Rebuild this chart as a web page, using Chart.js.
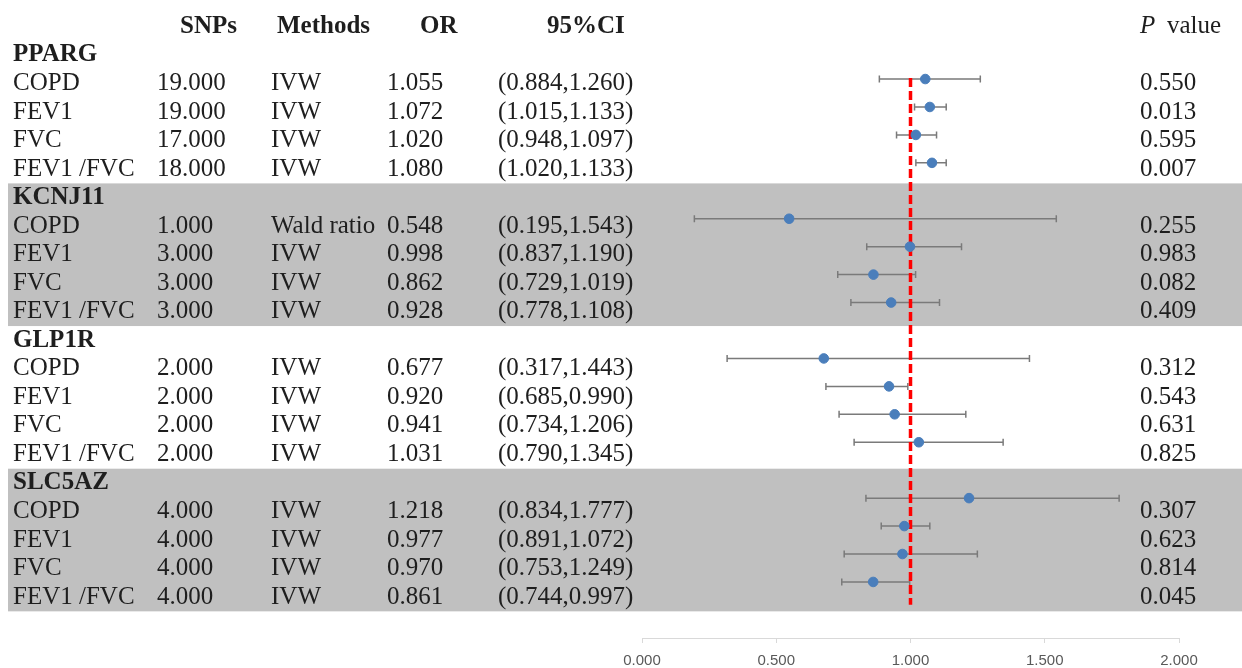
<!DOCTYPE html>
<html>
<head>
<meta charset="utf-8">
<script src="https://cdn.jsdelivr.net/npm/chart.js@4.4.1/dist/chart.umd.min.js"></script>
<style>
    body { margin: 0; background: #fff; }
    #wrap { width: 1242px; height: 668px; position: relative; }
</style>
</head>
<body>
<div id="wrap"><canvas id="forestChart"></canvas></div>
<script>
// ========================================
// Data
// ========================================

const groups = ['PPARG', 'KCNJ11', 'GLP1R', 'SLC5AZ'];
const outcomes = ['COPD', 'FEV1', 'FVC', 'FEV1 /FVC'];
const snps = [19, 19, 17, 18, 1, 3, 3, 3, 2, 2, 2, 2, 4, 4, 4, 4];
const methods = ['IVW', 'IVW', 'IVW', 'IVW', 'Wald ratio', 'IVW', 'IVW', 'IVW',
                 'IVW', 'IVW', 'IVW', 'IVW', 'IVW', 'IVW', 'IVW', 'IVW'];
const orValues = [1.055, 1.072, 1.020, 1.080, 0.548, 0.998, 0.862, 0.928,
                  0.677, 0.920, 0.941, 1.031, 1.218, 0.977, 0.970, 0.861];
const ciLower = [0.884, 1.015, 0.948, 1.020, 0.195, 0.837, 0.729, 0.778,
                 0.317, 0.685, 0.734, 0.790, 0.834, 0.891, 0.753, 0.744];
const ciUpper = [1.260, 1.133, 1.097, 1.133, 1.543, 1.190, 1.019, 1.108,
                 1.443, 0.990, 1.206, 1.345, 1.777, 1.072, 1.249, 0.997];
const pValues = ['0.550', '0.013', '0.595', '0.007', '0.255', '0.983', '0.082', '0.409',
                 '0.312', '0.543', '0.631', '0.825', '0.307', '0.623', '0.814', '0.045'];
const xTicks = [0, 0.5, 1, 1.5, 2];
// reference line at OR = 1 (row span)
const refLine = [{ x: 1, y: 0.96 }, { x: 1, y: 19.82 }];
// shaded groups
const shadedGroups = [1, 3];

// row index of each estimate (group header takes one row)
const rowOf = i => Math.floor(i / 4) * 5 + 1 + (i % 4);

const SERIF = '"Liberation Serif", "Times New Roman", serif';
const TEXT_COLOR = '#1e1e1e';

// ========================================
// Plugins
// ========================================

/**
 * Grey group bands (under everything)
 */
const bandPlugin = {
    id: 'bands',
    beforeDraw(chart) {
        const ctx = chart.ctx;
        const yt = chart.scales.yt;
        ctx.save();
        ctx.fillStyle = '#c0c0c0';
        shadedGroups.forEach(g => {
            const top = yt.getPixelForValue(g * 5 - 0.5);
            const bottom = yt.getPixelForValue(g * 5 + 4.5);
            ctx.fillRect(8, top, chart.width - 8, bottom - top);
        });
        ctx.restore();
    }
};

/**
 * Confidence interval whiskers
 */
const whiskerPlugin = {
    id: 'whiskers',
    beforeDatasetsDraw(chart) {
        const ctx = chart.ctx;
        const xs = chart.scales.x;
        const ys = chart.scales.y;
        ctx.save();
        ctx.strokeStyle = '#7a7a7a';
        ctx.lineWidth = 1.5;
        orValues.forEach((v, i) => {
            const y = ys.getPixelForValue(rowOf(i));
            const x1 = xs.getPixelForValue(ciLower[i]);
            const x2 = xs.getPixelForValue(ciUpper[i]);
            ctx.beginPath();
            ctx.moveTo(x1, y);
            ctx.lineTo(x2, y);
            ctx.moveTo(x1, y - 3.5);
            ctx.lineTo(x1, y + 3.5);
            ctx.moveTo(x2, y - 3.5);
            ctx.lineTo(x2, y + 3.5);
            ctx.stroke();
        });
        ctx.restore();
    }
};

/**
 * Table text
 */
const tablePlugin = {
    id: 'table',
    afterDraw(chart) {
        const ctx = chart.ctx;
        const yt = chart.scales.yt;
        ctx.save();
        ctx.fillStyle = TEXT_COLOR;
        ctx.textBaseline = 'middle';
        ctx.textAlign = 'left';

        // header
        const hy = yt.getPixelForValue(-1);
        ctx.font = 'bold 25px ' + SERIF;
        ctx.fillText('SNPs', 180, hy);
        ctx.fillText('Methods', 277, hy);
        ctx.fillText('OR', 420, hy);
        ctx.fillText('95%CI', 547, hy);
        ctx.font = 'italic 25px ' + SERIF;
        ctx.fillText('P', 1140, hy);
        ctx.font = '25px ' + SERIF;
        ctx.fillText('value', 1167, hy);

        // groups
        groups.forEach((g, gi) => {
            ctx.font = 'bold 25px ' + SERIF;
            ctx.fillText(g, 13, yt.getPixelForValue(gi * 5));
        });

        // rows
        ctx.font = '25px ' + SERIF;
        orValues.forEach((v, i) => {
            const y = yt.getPixelForValue(rowOf(i));
            ctx.fillText(outcomes[i % 4], 13, y);
            ctx.fillText(snps[i].toFixed(3), 157, y);
            ctx.fillText(methods[i], 271, y);
            ctx.fillText(v.toFixed(3), 387, y);
            ctx.fillText('(' + ciLower[i].toFixed(3) + ',' + ciUpper[i].toFixed(3) + ')', 498, y);
            ctx.fillText(pValues[i], 1140, y);
        });
        ctx.restore();
    }
};

// ========================================
// Chart
// ========================================

window.addEventListener('DOMContentLoaded', () => {
    const ctx = document.getElementById('forestChart').getContext('2d');

    new Chart(ctx, {
        type: 'scatter',
        data: {
            datasets: [
                {
                    label: 'OR',
                    data: orValues.map((v, i) => ({ x: v, y: rowOf(i) })),
                    backgroundColor: '#4a7ebb',
                    borderColor: '#4a7ebb',
                    pointRadius: 4.8,
                    yAxisID: 'y'
                },
                {
                    type: 'line',
                    label: 'ref',
                    data: refLine,
                    borderColor: '#ff0000',
                    borderWidth: 3.5,
                    borderDash: [9, 4],
                    pointRadius: 0,
                    fill: false,
                    yAxisID: 'y'
                }
            ]
        },
        options: {
            responsive: true,
            maintainAspectRatio: false,
            animation: false,
            layout: {
                autoPadding: false,
                padding: { left: 642, right: 63, top: 0, bottom: 0 }
            },
            plugins: {
                legend: { display: false },
                tooltip: { enabled: false },
                title: { display: false }
            },
            scales: {
                x: {
                    type: 'linear',
                    min: 0,
                    max: 2,
                    afterFit: scale => { scale.height = 30; },
                    afterBuildTicks: scale => {
                        scale.ticks = xTicks.map(v => ({ value: v }));
                    },
                    border: { display: true, color: '#d9d9d9', width: 1 },
                    grid: {
                        display: true,
                        drawOnChartArea: false,
                        drawTicks: true,
                        tickLength: 5,
                        color: '#d9d9d9'
                    },
                    ticks: {
                        padding: 9,
                        color: '#595959',
                        font: { family: '"Liberation Sans", Arial, sans-serif', size: 15 },
                        maxRotation: 0,
                        callback: value => Number(value).toFixed(3)
                    }
                },
                y: {
                    type: 'linear',
                    display: false,
                    reverse: true,
                    min: -1.829,
                    max: 21.006
                },
                yt: {
                    type: 'linear',
                    display: false,
                    reverse: true,
                    min: -1.928,
                    max: 20.434
                }
            }
        },
        plugins: [bandPlugin, whiskerPlugin, tablePlugin]
    });
});
</script>
</body>
</html>
